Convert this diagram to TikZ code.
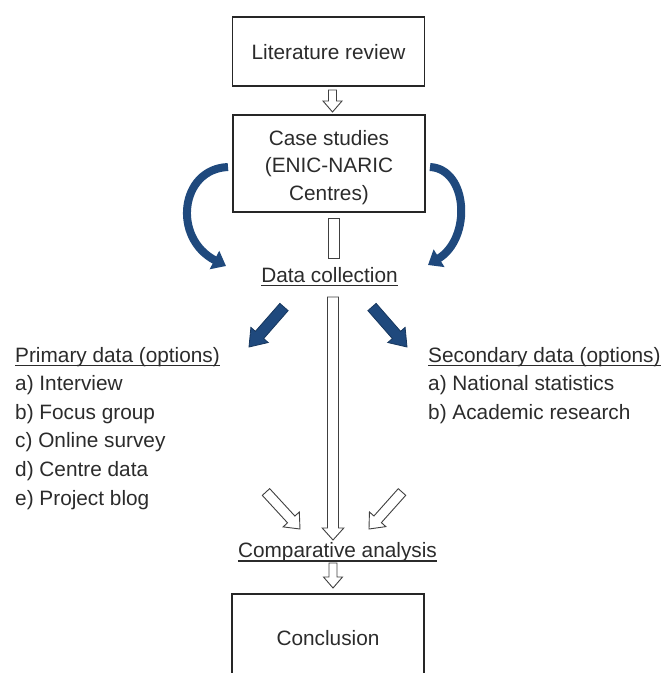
\documentclass[tikz,border=0pt]{standalone}
\usepackage{fontspec}
\setmainfont{Liberation Sans}
\usetikzlibrary{calc,arrows.meta}
\definecolor{navy}{HTML}{1F497D}
\definecolor{navyline}{HTML}{17375E}
\definecolor{ink}{HTML}{2B2B2B}
% block arrow: #1 style, #2 start, #3 tip, #4 shaft half width, #5 head half width, #6 head length
\newcommand{\blockarr}[6]{%
  \coordinate (tmpH) at ($(#3)!#6!(#2)$);
  \draw[#1] ($(#2)!#4!90:(#3)$) -- ($(tmpH)!#4!90:(#3)$) -- ($(tmpH)!#5!90:(#3)$)
    -- (#3) -- ($(tmpH)!#5!-90:(#3)$) -- ($(tmpH)!#4!-90:(#3)$) -- ($(#2)!#4!-90:(#3)$) -- cycle;
}
\begin{document}
\begin{tikzpicture}[x=1pt,y=-1pt,
  every node/.style={font=\fontsize{20.8}{27.8}\selectfont, text=ink},
  box/.style={draw=black!85, line width=1.2pt, minimum width=192pt, inner sep=0pt},
  txt/.style={inner sep=0pt, anchor=base},
  ltxt/.style={inner sep=0pt, anchor=base west},
  uline/.style={draw=ink, line width=1.1pt},
  hollow/.style={draw=black!75, line width=0.9pt, fill=white, line join=miter},
  solidarr/.style={draw=navyline, line width=0.8pt, fill=navy, line join=miter},
  curvarr/.style={draw=navy, line width=8pt, -{Triangle[length=13pt,width=20pt]}}
]
\useasboundingbox (0,0) rectangle (664,673);
\clip (0,0) rectangle (664,673);

% boxes
\node[box, minimum height=69pt, text height=15pt, text depth=0pt] (lit) at (328.5,51.5) {Literature review};
\node[box, minimum height=97pt] (case) at (329,163.5) {};
\node[align=center, inner sep=0pt] (caset) at (329,167.5) {Case studies\\(ENIC-NARIC\\Centres)};
\node[box, minimum height=87pt, text height=15pt, text depth=0pt] (conc) at (328,637.5) {Conclusion};

% plain headings
\node[txt] (dc) at (329.5,282) {Data collection};
\draw[uline] ([yshift=-3.5pt]dc.base west) -- ([yshift=-3.5pt]dc.base east);
\node[txt] (ca) at (337.5,557) {Comparative analysis};
\draw[uline] ([yshift=-4pt]ca.base west) -- ([yshift=-4pt]ca.base east);

% primary data list
\node[ltxt] (prim) at (15,362) {Primary data (options)};
\draw[uline] ([yshift=-3.5pt]prim.base west) -- ([yshift=-3.5pt]prim.base east);
\node[ltxt] (p1) at (15,390.6) {a) Interview};
\node[ltxt] (p2) at (15,419.2) {b) Focus group};
\node[ltxt] (p3) at (15,447.8) {c) Online survey};
\node[ltxt] (p4) at (15,476.4) {d) Centre data};
\node[ltxt] (p5) at (15,505) {e) Project blog};

% secondary data list
\node[ltxt] (sec) at (428,362) {Secondary data (options)};
\draw[uline] ([yshift=-3.5pt]sec.base west) -- ([yshift=-3.5pt]sec.base east);
\node[ltxt] (s1) at (428,390.6) {a) National statistics};
\node[ltxt] (s2) at (428,419.2) {b) Academic research};

% bar between case studies and data collection
\node[draw=black!75, line width=0.9pt, fill=white, minimum width=11pt, minimum height=40pt, inner sep=0pt] (bar) at (333.5,238) {};

% hollow arrows
\coordinate (a1s) at (332.5,90);  \coordinate (a1e) at (332.5,112);
\blockarr{hollow}{a1s}{a1e}{4pt}{9.5pt}{11pt}
\coordinate (lgs) at (333,297);   \coordinate (lge) at (333,540);
\blockarr{hollow}{lgs}{lge}{5.5pt}{10.8pt}{12pt}
\coordinate (dls) at (266,492);   \coordinate (dle) at (300,529);
\blockarr{hollow}{dls}{dle}{5pt}{11pt}{13pt}
\coordinate (drs) at (402,492);   \coordinate (dre) at (369,529);
\blockarr{hollow}{drs}{dre}{5pt}{11pt}{13pt}
\coordinate (a2s) at (333,563);   \coordinate (a2e) at (333,588);
\blockarr{hollow}{a2s}{a2e}{4pt}{9.5pt}{11pt}

% solid blue arrows from data collection
\coordinate (bls) at (284,307);   \coordinate (ble) at (249,347);
\blockarr{solidarr}{bls}{ble}{5.5pt}{11.5pt}{16pt}
\coordinate (brs) at (372,307);   \coordinate (bre) at (407,347);
\blockarr{solidarr}{brs}{bre}{5.5pt}{11.5pt}{16pt}

% curved blue arrows from case studies
\coordinate (cls) at (228,167);   \coordinate (cle) at (226,266);
\draw[curvarr] (cls) .. controls (180,169) and (172,238) .. (cle);
\coordinate (crs) at (430,167);   \coordinate (cre) at (428,265);
\draw[curvarr] (crs) .. controls (468,169) and (472,238) .. (cre);
\end{tikzpicture}
\end{document}
